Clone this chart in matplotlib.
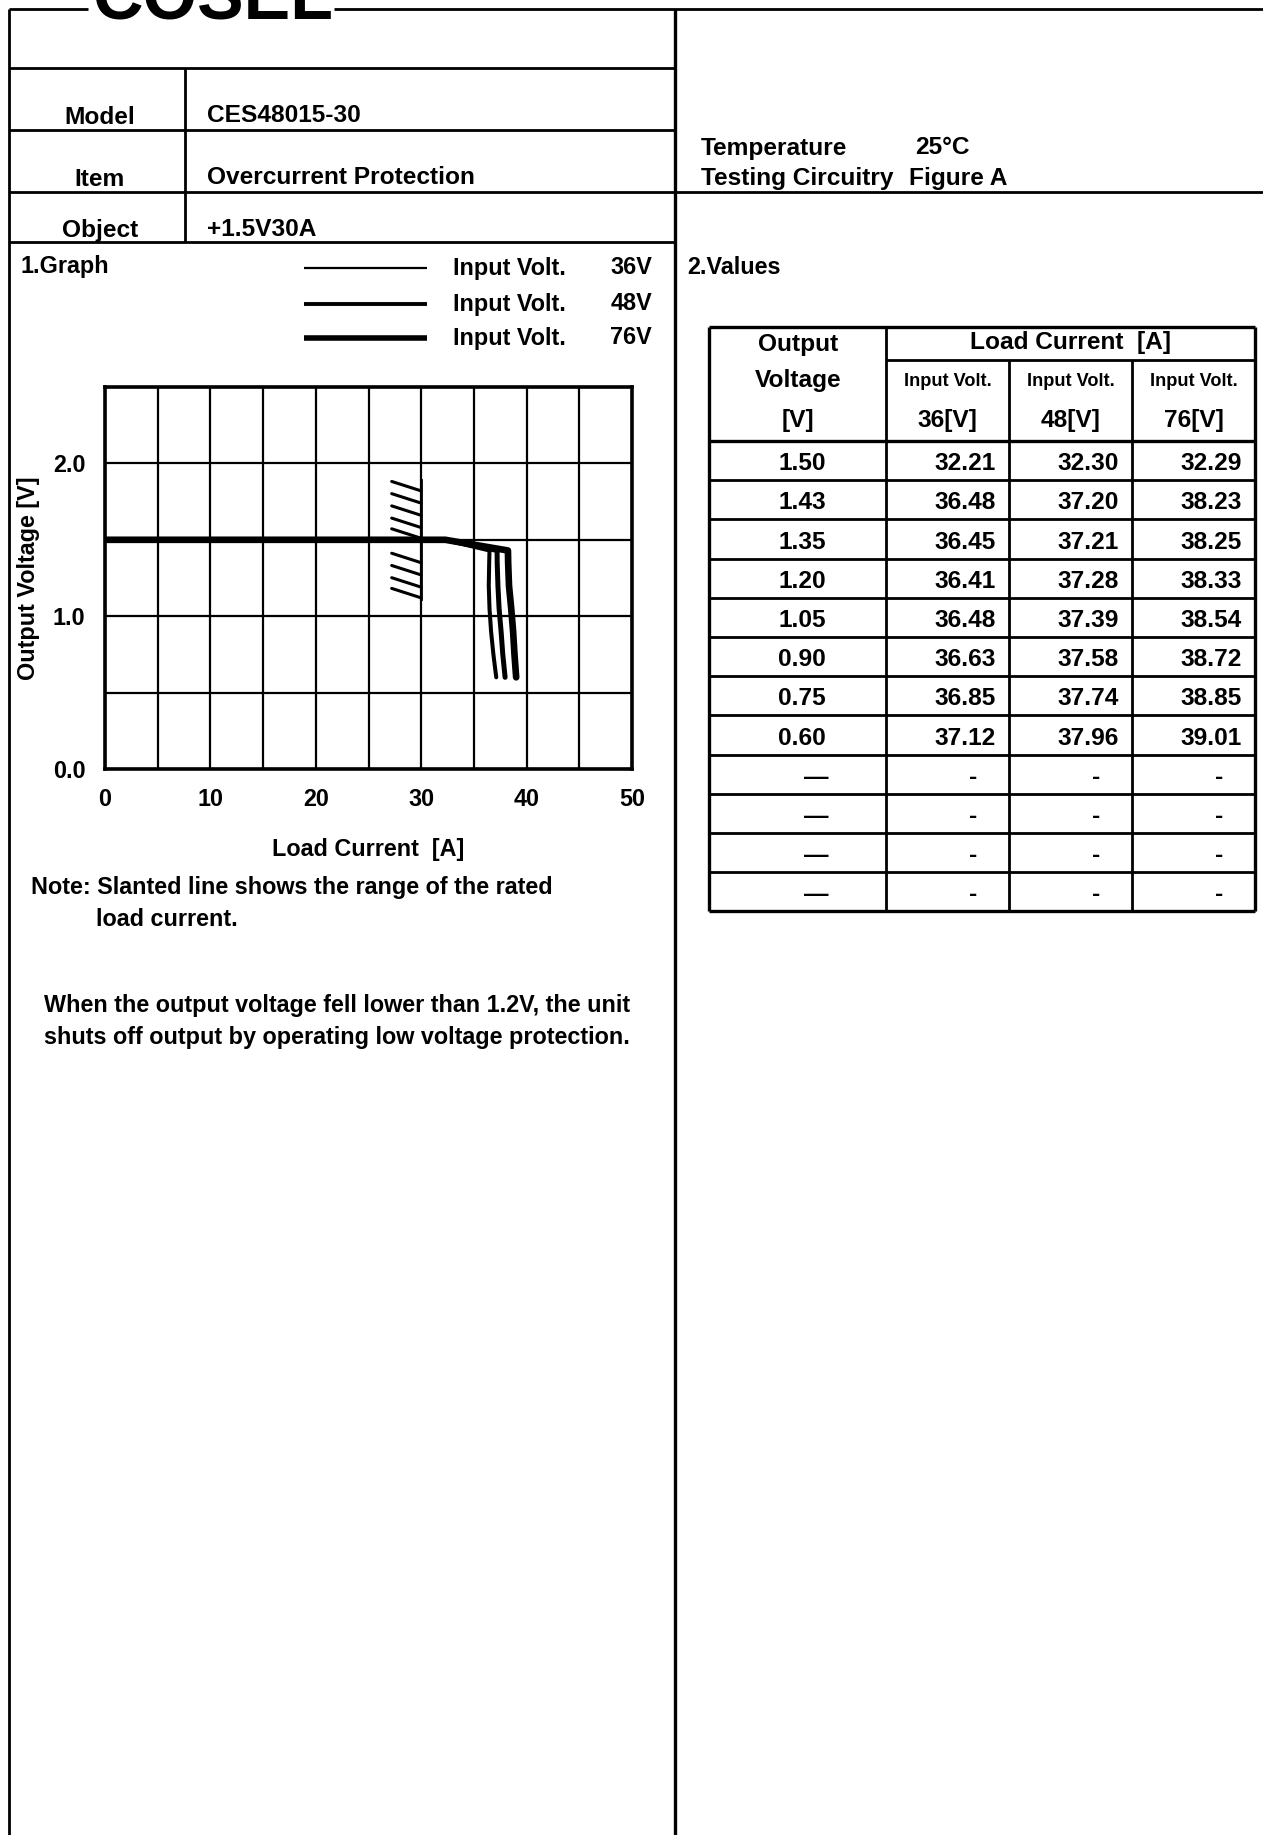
import matplotlib
matplotlib.use("Agg")
import matplotlib.pyplot as plt
from matplotlib import font_manager

# Datos de la tabla (tensión de salida vs corriente de carga)
out_volt = [1.50, 1.43, 1.35, 1.20, 1.05, 0.90, 0.75, 0.60]
load_36 = [32.21, 36.48, 36.45, 36.41, 36.48, 36.63, 36.85, 37.12]
load_48 = [32.30, 37.20, 37.21, 37.28, 37.39, 37.58, 37.74, 37.96]
load_76 = [32.29, 38.23, 38.25, 38.33, 38.54, 38.72, 38.85, 39.01]
empty_rows = 4
input_volts = ["36", "48", "76"]

# Marcas inclinadas: rango de corriente nominal (hasta 30 A)
rated_current = 30
rated_mark_v = [1.82, 1.74, 1.66, 1.58, 1.51, 1.35, 1.27, 1.19, 1.12]
rated_span = [1.11, 1.89]

x_ticks = [0, 10, 20, 30, 40, 50]
y_ticks = [0.0, 1.0, 2.0]

# Fuente
names = {f.name for f in font_manager.fontManager.ttflist}
if "Liberation Sans Narrow" in names:
    fam, k = "Liberation Sans Narrow", 1.0
else:
    fam, k = "Liberation Sans", 0.84
plt.rcParams["font.family"] = [fam, "DejaVu Sans"]
plt.rcParams["font.weight"] = "bold"

W, H = 1263, 1835
fig = plt.figure(figsize=(W / 100, H / 100), dpi=100)
bg = fig.add_axes([0, 0, 1, 1])
bg.set_xlim(0, W)
bg.set_ylim(H, 0)
bg.axis("off")

LW = 2.0


def hline(y, x0, x1, lw=LW):
    bg.plot([x0, x1], [y, y], color="black", lw=lw, solid_capstyle="butt")


def vline(x, y0, y1, lw=LW):
    bg.plot([x, x], [y0, y1], color="black", lw=lw, solid_capstyle="butt")


def txt(x, y, s, size=21, ha="left", **kw):
    bg.text(x, y, s, fontsize=size * k, ha=ha, va="center", fontweight="bold", **kw)


# Marco general
hline(9, 9, 88)
hline(9, 334, W)
vline(9, 9, H)
vline(675, 9, H, lw=2.4)
bg.text(92, 20, "COSEL", fontsize=60 * k, fontweight="bold", ha="left", va="baseline")

# Cabecera izquierda
for y in [68, 130, 192, 242]:
    hline(y, 9, 675)
hline(192, 675, W)
vline(185, 68, 242)
txt(100, 117, "Model", ha="center")
txt(100, 180, "Item", ha="center")
txt(100, 230, "Object", ha="center")
txt(207, 115, "CES48015-30")
txt(207, 178, "Overcurrent Protection")
txt(207, 229, "+1.5V30A")

# Cabecera derecha
txt(701, 148, "Temperature")
txt(915, 148, "25°C")
txt(701, 179, "Testing Circuitry")
txt(909, 179, "Figure A")

# Leyenda
txt(21, 267, "1.Graph", size=20)
leg_y = [268, 304, 338]
leg_lw = [1.6, 2.8, 4.0]
for yy, lw, v in zip(leg_y, leg_lw, input_volts):
    hline(yy, 304, 427, lw=lw)
    txt(453, yy, "Input Volt.", size=20)
    txt(652, yy, v + "V", size=20, ha="right")
txt(687, 267, "2.Values", size=20)

# Gráfico
L, R, T, B = 105, 632, 387, 769
ax = fig.add_axes([L / W, 1 - B / H, (R - L) / W, (B - T) / H])
ax.set_xlim(0, 50)
ax.set_ylim(0, 2.5)
ax.set_xticks(range(0, 51, 5))
ax.set_xticklabels([str(v) if v in x_ticks else "" for v in range(0, 51, 5)])
ax.set_yticks([i * 0.5 for i in range(6)])
ax.set_yticklabels([f"{i * 0.5:.1f}" if i * 0.5 in y_ticks else "" for i in range(6)])
ax.tick_params(length=0, labelsize=20 * k, pad=14)
for lab in ax.get_xticklabels() + ax.get_yticklabels():
    lab.set_fontweight("bold")
ax.grid(True, color="black", lw=1.6)
for s in ax.spines.values():
    s.set_linewidth(2.6)

series = [(load_36, 2.9), (load_48, 3.6), (load_76, 4.8)]
for loads, lw in series:
    ax.plot([0.0] + loads, [out_volt[0]] + out_volt, color="black", lw=lw,
            solid_capstyle="round", solid_joinstyle="round", zorder=3)

ax.plot([rated_current, rated_current], rated_span, color="black", lw=2, zorder=3)
for v in rated_mark_v:
    ax.plot([rated_current - 2.8, rated_current], [v + 0.062, v], color="black",
            lw=2.2, solid_capstyle="round", zorder=3)

ax.set_xlabel("Load Current  [A]", fontsize=20 * k, fontweight="bold", labelpad=19)
ax.set_ylabel("Output Voltage [V]", fontsize=20 * k, fontweight="bold", labelpad=9)

# Notas
txt(31, 887, "Note: Slanted line shows the range of the rated", size=20)
txt(96, 919, "load current.", size=20)
txt(44, 1005, "When the output voltage fell lower than 1.2V, the unit", size=20)
txt(44, 1037, "shuts off output by operating low voltage protection.", size=20)

# Tabla de valores
tx = [709, 886, 1009, 1132, 1255]
t_top, t_sub, t_head = 327, 360, 441
row_h = 39.2
n_rows = len(out_volt) + empty_rows
t_bot = t_head + n_rows * row_h
hline(t_top, tx[0], tx[-1], lw=2.4)
hline(t_sub, tx[1], tx[-1])
for i in range(n_rows + 1):
    hline(t_head + i * row_h, tx[0], tx[-1], lw=2.4 if i in (0, n_rows) else LW)
vline(tx[0], t_top, t_bot, lw=2.4)
vline(tx[1], t_top, t_bot)
vline(tx[-1], t_top, t_bot, lw=2.4)
for x in tx[2:4]:
    vline(x, t_sub, t_bot)

txt(798, 345, "Output", ha="center")
txt(798, 381, "Voltage", ha="center")
txt(798, 420, "[V]", ha="center")
txt(1071, 343, "Load Current  [A]", ha="center")
for j, v in enumerate(input_volts):
    cx = (tx[j + 1] + tx[j + 2]) / 2
    txt(cx, 382, "Input Volt.", size=15.5, ha="center")
    txt(cx, 420, v + "[V]", ha="center")

cols = [load_36, load_48, load_76]
for i in range(n_rows):
    cy = t_head + (i + 0.5) * row_h + 3
    if i < len(out_volt):
        txt(802, cy, f"{out_volt[i]:.2f}", ha="center")
        for j, c in enumerate(cols):
            txt(tx[j + 2] - 13, cy, f"{c[i]:.2f}", ha="right")
    else:
        txt(816, cy, "—", ha="center")
        for j in range(3):
            txt(tx[j + 2] - 36, cy, "-", ha="center")

fig.savefig("out.png", dpi=100)
